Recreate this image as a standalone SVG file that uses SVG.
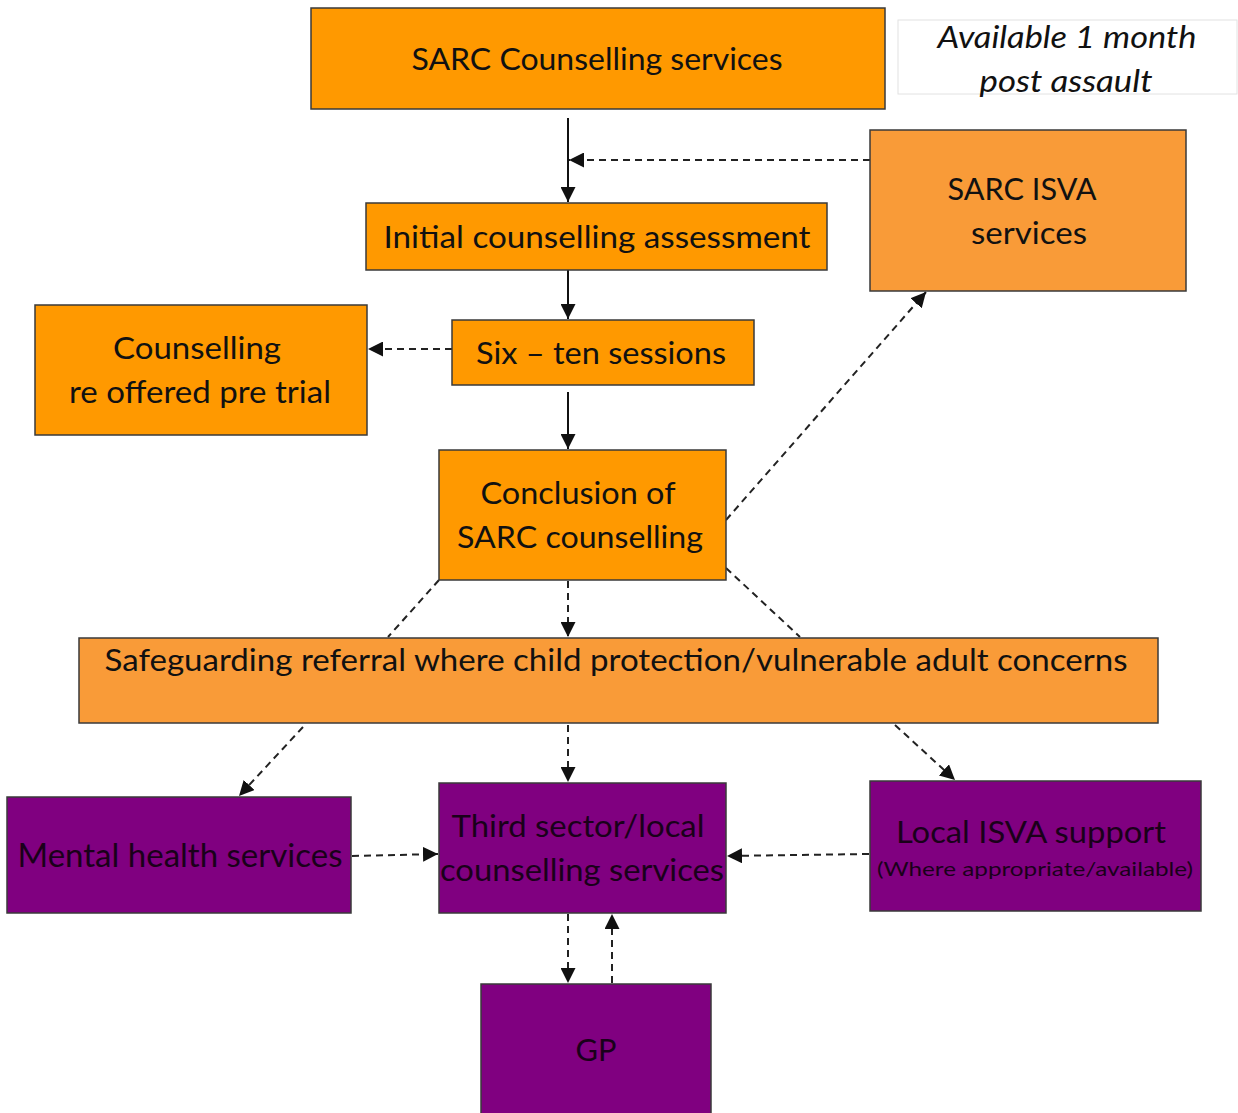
<svg xmlns="http://www.w3.org/2000/svg" width="1238" height="1113" viewBox="0 0 1238 1113">
<defs>
<style>
.o{fill:#FF9900;stroke:#3a3a3a;stroke-width:1.5}
.o2{fill:#F99B38;stroke:#3a3a3a;stroke-width:1.5}
.p{fill:#800080;stroke:#3a3a3a;stroke-width:1.5}
.t{font-family:Lato,"Open Sans","Liberation Sans",sans-serif;font-size:31px;fill:#111;text-anchor:middle}
.tp{font-family:Lato,"Open Sans","Liberation Sans",sans-serif;font-size:31px;fill:#1a001a;text-anchor:middle}
.s{stroke:#111;stroke-width:2;fill:none}
.d{stroke:#222;stroke-width:2;fill:none;stroke-dasharray:7,5}
</style>
<marker id="b" viewBox="0 0 10 10" refX="10" refY="5" markerWidth="15" markerHeight="15" markerUnits="userSpaceOnUse" orient="auto"><path d="M0,0L10,5L0,10z" fill="#111"/></marker>
</defs>
<rect width="1238" height="1113" fill="#fff"/>
<g id="connectors">
<line class="s" x1="568" y1="118" x2="568" y2="202" marker-end="url(#b)"/>
<line class="d" x1="870" y1="160" x2="569" y2="160" marker-end="url(#b)"/>
<line class="s" x1="568" y1="262" x2="568" y2="319" marker-end="url(#b)"/>
<line class="d" x1="452" y1="349" x2="368" y2="349" marker-end="url(#b)"/>
<line class="s" x1="568" y1="392" x2="568" y2="449" marker-end="url(#b)"/>
<line class="d" x1="726" y1="520" x2="926" y2="292" marker-end="url(#b)"/>
<line class="d" x1="568" y1="581" x2="568" y2="637" marker-end="url(#b)"/>
<line class="d" x1="439" y1="580" x2="388" y2="637"/>
<line class="d" x1="726" y1="568" x2="800" y2="637"/>
<line class="d" x1="303" y1="727" x2="239" y2="796" marker-end="url(#b)"/>
<line class="d" x1="568" y1="725" x2="568" y2="782" marker-end="url(#b)"/>
<line class="d" x1="895" y1="725" x2="955" y2="780" marker-end="url(#b)"/>
<line class="d" x1="352" y1="856" x2="438" y2="854" marker-end="url(#b)"/>
<line class="d" x1="869" y1="854" x2="727" y2="856" marker-end="url(#b)"/>
<line class="d" x1="568" y1="914" x2="568" y2="983" marker-end="url(#b)"/>
<line class="d" x1="612" y1="983" x2="612" y2="914" marker-end="url(#b)"/>
</g>
<g id="sarc-counselling"><rect class="o" x="311" y="8" width="574" height="101"/><text class="t" x="597" y="70" textLength="371" lengthAdjust="spacingAndGlyphs">SARC Counselling services</text></g>
<g id="available-note"><rect x="898" y="20" width="339" height="74" fill="#fff" stroke="#e2e2e2" stroke-width="1"/><text class="t" x="1067" y="48" font-style="italic" textLength="259" lengthAdjust="spacingAndGlyphs">Available 1 month</text><text class="t" x="1066" y="92" font-style="italic" textLength="173" lengthAdjust="spacingAndGlyphs">post assault</text></g>
<g id="sarc-isva"><rect class="o2" x="870" y="130" width="316" height="161"/><text class="t" x="1022" y="200" textLength="149" lengthAdjust="spacingAndGlyphs">SARC ISVA</text><text class="t" x="1029" y="244" textLength="116" lengthAdjust="spacingAndGlyphs">services</text></g>
<g id="initial-assessment"><rect class="o" x="366" y="203" width="461" height="67"/><text class="t" x="597" y="248" textLength="427" lengthAdjust="spacingAndGlyphs">Initial counselling assessment</text></g>
<g id="six-ten"><rect class="o" x="452" y="320" width="302" height="65"/><text class="t" x="601" y="364" textLength="250" lengthAdjust="spacingAndGlyphs">Six – ten sessions</text></g>
<g id="reoffered"><rect class="o" x="35" y="305" width="332" height="130"/><text class="t" x="197" y="359" textLength="168" lengthAdjust="spacingAndGlyphs">Counselling</text><text class="t" x="200" y="403" textLength="262" lengthAdjust="spacingAndGlyphs">re offered pre trial</text></g>
<g id="conclusion"><rect class="o" x="439" y="450" width="287" height="130"/><text class="t" x="578" y="504" textLength="195" lengthAdjust="spacingAndGlyphs">Conclusion of</text><text class="t" x="580" y="548" textLength="246" lengthAdjust="spacingAndGlyphs">SARC counselling</text></g>
<g id="safeguarding"><rect class="o2" x="79" y="638" width="1079" height="85"/><text class="t" x="616" y="671" textLength="1023" lengthAdjust="spacingAndGlyphs">Safeguarding referral where child protection/vulnerable adult concerns</text></g>
<g id="mental-health"><rect class="p" x="7" y="797" width="344" height="116"/><text class="tp" x="180" y="867" style="font-size:32px" textLength="325" lengthAdjust="spacingAndGlyphs">Mental health services</text></g>
<g id="third-sector"><rect class="p" x="439" y="783" width="287" height="130"/><text class="tp" x="578" y="837" textLength="253" lengthAdjust="spacingAndGlyphs">Third sector/local</text><text class="tp" x="582" y="881" textLength="284" lengthAdjust="spacingAndGlyphs">counselling services</text></g>
<g id="local-isva"><rect class="p" x="870" y="781" width="331" height="130"/><text class="tp" x="1031" y="843" textLength="270" lengthAdjust="spacingAndGlyphs">Local ISVA support</text><text class="tp" x="1035" y="876" style="font-size:20px" textLength="316" lengthAdjust="spacingAndGlyphs">(Where appropriate/available)</text></g>
<g id="gp"><rect class="p" x="481" y="984" width="230" height="135"/><text class="tp" x="596" y="1061" textLength="41" lengthAdjust="spacingAndGlyphs">GP</text></g>
</svg>
